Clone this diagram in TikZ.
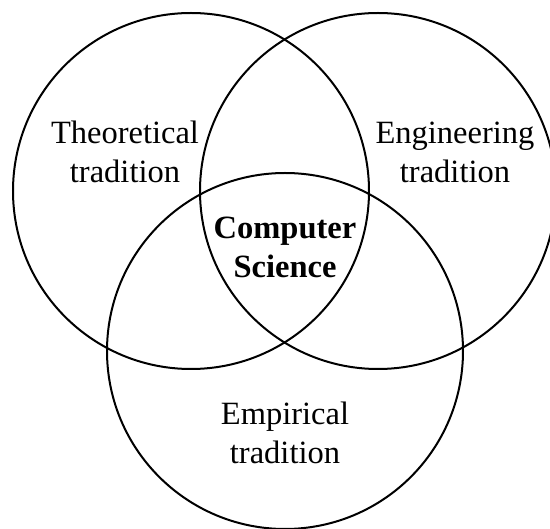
\documentclass[tikz,border=0pt]{standalone}
\usepackage{fontspec}
\setmainfont{Liberation Serif}
\usepackage{tikz}
\usetikzlibrary{positioning, calc}

\tikzset{
  ring/.style={draw=black, line width=2pt},
  label text/.style={align=center, anchor=base, inner sep=0pt,
    font=\fontsize{32.5}{39}\selectfont}
}

\begin{document}
\begin{tikzpicture}[x=1pt,y=-1pt]
      % keep the page the size of the reference
      \useasboundingbox (0,0) rectangle (550,529);
      % radius of the three circles
      \pgfmathsetmacro{\Rad}{178}

      \coordinate (theoC) at (191,191);
      \coordinate (engiC) at (378,191);
      \coordinate (empiC) at (285,351);

      \draw[ring] (theoC) circle[radius=\Rad];
      \draw[ring] (engiC) circle[radius=\Rad];
      \draw[ring] (empiC) circle[radius=\Rad];

      % base anchor sits on the last line
      \node[label text] (theo) at (125,183) {Theoretical\\tradition};
      \node[label text] (engi) at (455,183) {Engineering\\tradition};
      \node[label text] (cs) at (285,278) {\bfseries Computer\\\bfseries Science};
      \node[label text] (empi) at (285,464) {Empirical\\tradition};
    \end{tikzpicture}
\end{document}
